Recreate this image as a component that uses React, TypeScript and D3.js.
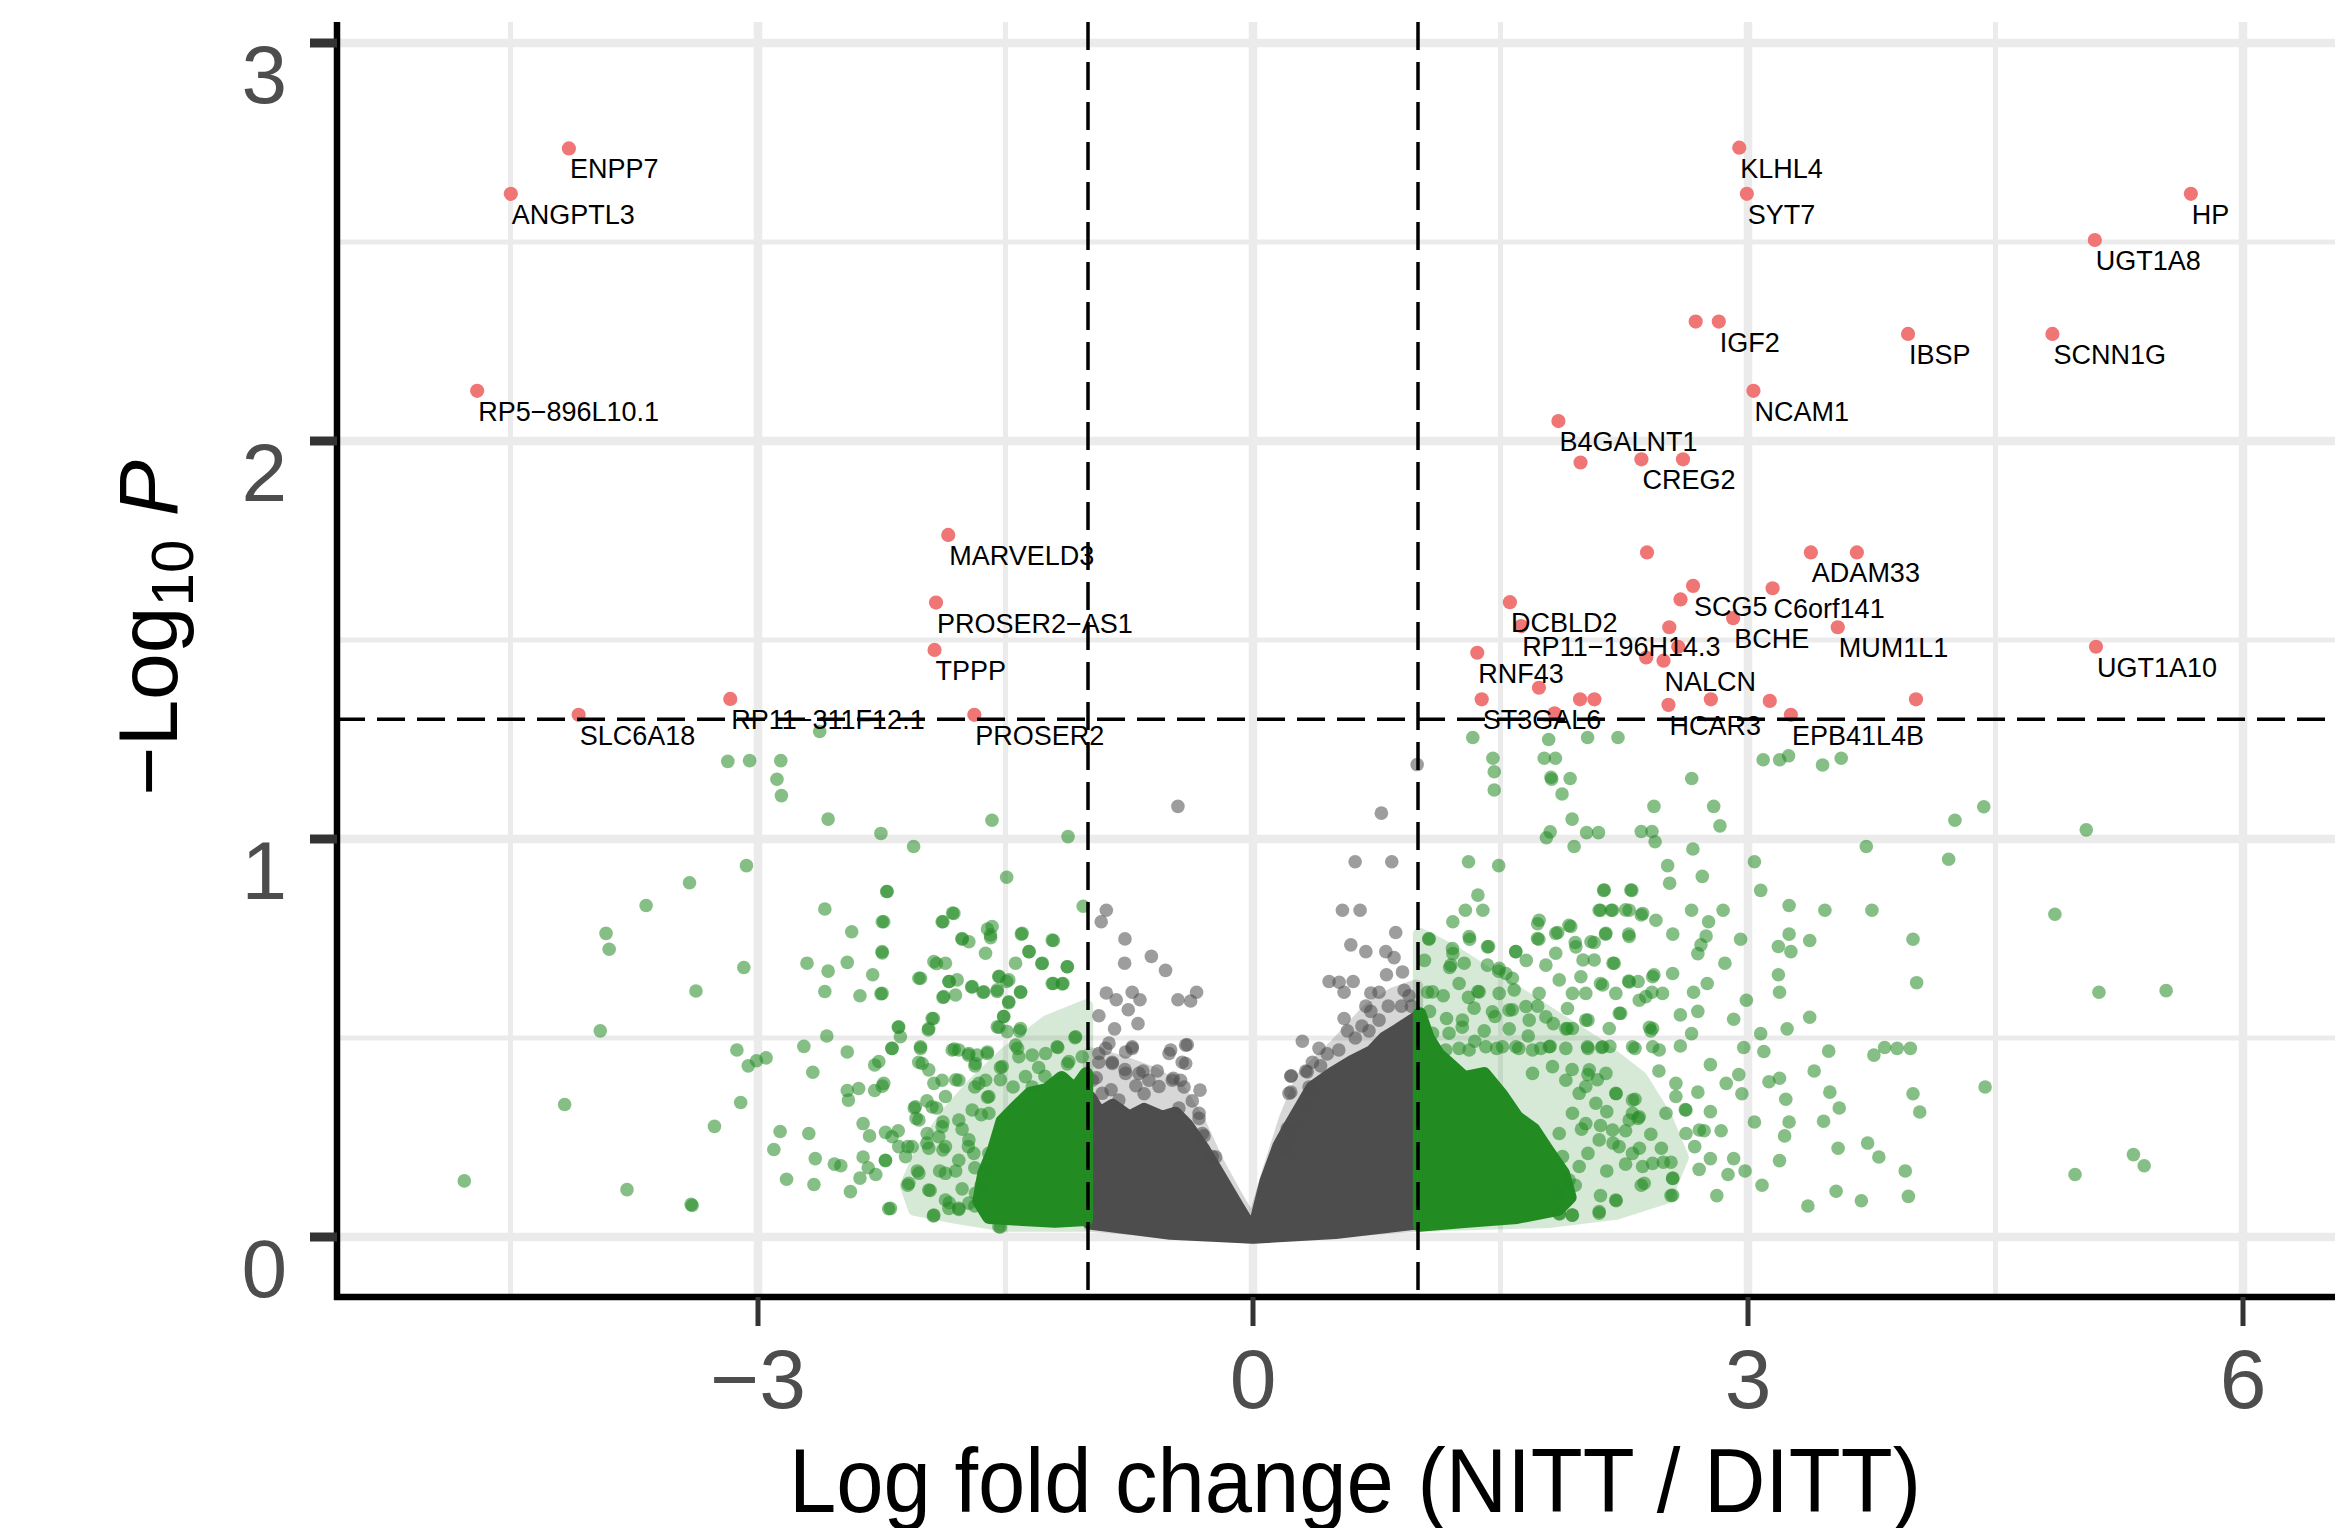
import React from "react";
import * as d3 from "d3";

type Pt = [number, number];

// axis ticks
const xTicks = [-3, 0, 3, 6];
const xMinor = [-4.5, -1.5, 1.5, 4.5];
const yTicks = [0, 1, 2, 3];
const yMinor = [0.5, 1.5, 2.5];
const fcCutoffs = [-1, 1];
const pCutoff = 1.301;

// significant genes (red)
const sigLabels = [
  "ENPP7", "ANGPTL3", "RP5−896L10.1", "MARVELD3", "PROSER2−AS1", "TPPP", "RP11−311F12.1", "SLC6A18", "PROSER2",
  "KLHL4", "SYT7", "HP", "UGT1A8", "", "IGF2", "IBSP", "SCNN1G", "NCAM1", "B4GALNT1",
  "", "CREG2", "", "", "ADAM33", "", "SCG5", "C6orf141", "", "DCBLD2", "BCHE", "RP11−196H14.3", "",
  "MUM1L1", "UGT1A10", "RNF43", "", "", "NALCN", "", "", "", "", "", "", "", "ST3GAL6", "HCAR3", "EPB41L4B",
];
const sigLogFC = [
  -4.146, -4.498, -4.702, -1.847, -1.921, -1.93, -3.168, -4.087, -1.689,
  2.947, 2.993, 5.684, 5.102, 2.683, 2.823, 3.97, 4.845, 3.033, 1.851,
  1.985, 2.354, 2.606, 2.388, 3.381, 3.66, 2.667, 3.149, 2.591, 1.557, 2.91, 1.625, 2.523,
  3.544, 5.109, 1.359, 2.577, 2.383, 2.488, 1.733, 1.982, 2.069, 2.775, 4.018, 3.132, 1.828, 1.386, 2.518, 3.26,
];
const sigNegLogP = [
  2.735, 2.621, 2.126, 1.764, 1.594, 1.475, 1.352, 1.312, 1.312,
  2.737, 2.621, 2.621, 2.505, 2.3, 2.3, 2.269, 2.269, 2.126, 2.05,
  1.946, 1.954, 1.954, 1.72, 1.72, 1.72, 1.636, 1.63, 1.602, 1.595, 1.555, 1.535, 1.532,
  1.532, 1.483, 1.468, 1.483, 1.456, 1.448, 1.38, 1.351, 1.351, 1.351, 1.351, 1.347, 1.316, 1.351, 1.337, 1.312,
];

// dense clouds (outlines of the overlapping point mass)
const grayCore: Pt[] = [
  [-0.99, 0.35], [-0.93, 0.31], [-0.85, 0.33], [-0.75, 0.3], [-0.66, 0.32], [-0.55, 0.3], [-0.47, 0.31], [-0.4, 0.28],
  [-0.3, 0.22], [-0.2, 0.15], [-0.1, 0.08], [-0.02, 0.025], [0.02, 0.04], [0.08, 0.14], [0.16, 0.23], [0.24, 0.29],
  [0.36, 0.375], [0.48, 0.41], [0.6, 0.44], [0.72, 0.465], [0.8, 0.5], [0.88, 0.52], [0.99, 0.55], [0.99, 0.036],
  [0.5, 0.012], [0, 0], [-0.5, 0.01], [-0.99, 0.036],
];
const grayHalo: Pt[] = [
  [-0.99, 0.46], [-0.8, 0.44], [-0.6, 0.41], [-0.45, 0.37], [-0.33, 0.29], [-0.22, 0.19], [-0.1, 0.1], [0, 0.03],
  [0.1, 0.17], [0.2, 0.3], [0.3, 0.4], [0.5, 0.48], [0.7, 0.57], [0.85, 0.61], [0.99, 0.63], [0.99, 0.03], [0, 0], [-0.99, 0.03],
];
const greenCoreLeft: Pt[] = [
  [-1.01, 0.41], [-1.08, 0.37], [-1.16, 0.4], [-1.25, 0.37], [-1.35, 0.36], [-1.45, 0.32], [-1.52, 0.29], [-1.57, 0.22],
  [-1.63, 0.16], [-1.66, 0.09], [-1.6, 0.05], [-1.4, 0.045], [-1.2, 0.04], [-1.01, 0.045],
];
const greenHaloLeft: Pt[] = [
  [-1.01, 0.58], [-1.25, 0.54], [-1.5, 0.46], [-1.7, 0.38], [-1.85, 0.31], [-2.0, 0.22], [-2.1, 0.13], [-2.05, 0.07],
  [-1.8, 0.05], [-1.5, 0.03], [-1.01, 0.03],
];
const greenCoreRight: Pt[] = [
  [1.01, 0.56], [1.06, 0.5], [1.12, 0.46], [1.2, 0.43], [1.28, 0.4], [1.4, 0.41], [1.5, 0.36], [1.6, 0.3], [1.7, 0.27],
  [1.78, 0.22], [1.88, 0.16], [1.92, 0.1], [1.85, 0.07], [1.6, 0.05], [1.3, 0.04], [1.01, 0.03],
];
const greenHaloRight: Pt[] = [
  [1.01, 0.76], [1.2, 0.72], [1.5, 0.64], [1.8, 0.56], [2.1, 0.48], [2.35, 0.4], [2.5, 0.3], [2.6, 0.2], [2.5, 0.1],
  [2.2, 0.06], [1.8, 0.04], [1.01, 0.03],
];

// individual non-significant points
const grayPts: Pt[] = [
  [-0.455, 1.082], [0.778, 1.065], [0.995, 1.187], [0.619, 0.943], [0.841, 0.943], [0.542, 0.821], [0.649, 0.821],
  [0.865, 0.765], [0.593, 0.734], [0.684, 0.717], [0.805, 0.717], [0.855, 0.702], [0.809, 0.659], [0.906, 0.666],
  [0.461, 0.642], [0.522, 0.64], [0.607, 0.642], [0.552, 0.615], [0.714, 0.613], [0.764, 0.615], [0.916, 0.62],
  [0.946, 0.606], [0.684, 0.58], [0.714, 0.567], [0.764, 0.545], [0.552, 0.549], [0.572, 0.518], [0.703, 0.518],
  [0.299, 0.492], [0.4, 0.474], [0.36, 0.439], [0.32, 0.417], [0.229, 0.404], [0.229, 0.364], [0.34, 0.377],
  [0.31, 0.333], [0.229, 0.271], [0.208, 0.223], [0.232, 0.405], [0.218, 0.361], [0.329, 0.415], [0.208, 0.273], [0.188, 0.227],
  [0.45, 0.46], [0.52, 0.47], [0.62, 0.5], [0.82, 0.58], [0.9, 0.58], [0.96, 0.58], [0.66, 0.53], [0.41, 0.43],
  [-0.889, 0.821], [-0.92, 0.792], [-0.776, 0.749], [-0.778, 0.688], [-0.616, 0.705], [-0.53, 0.67], [-0.889, 0.613],
  [-0.829, 0.596], [-0.732, 0.615], [-0.685, 0.596], [-0.934, 0.556], [-0.756, 0.571], [-0.697, 0.536], [-0.839, 0.523],
  [-0.455, 0.596], [-0.378, 0.593], [-0.342, 0.615], [-0.398, 0.483], [-0.499, 0.47], [-0.429, 0.439], [-0.893, 0.474],
  [-0.772, 0.465], [-0.732, 0.474], [-0.934, 0.439], [-0.853, 0.439], [-0.776, 0.421], [-0.667, 0.417], [-0.58, 0.417],
  [-0.483, 0.399], [-0.418, 0.377], [-0.321, 0.369], [-0.368, 0.342], [-0.327, 0.298], [-0.297, 0.254], [-0.226, 0.201],
  [-0.449, 0.324], [-0.934, 0.461], [-0.853, 0.436], [-0.772, 0.411], [-0.691, 0.411], [-0.631, 0.394], [-0.57, 0.378],
  [-0.489, 0.394], [-0.439, 0.394], [-0.914, 0.361], [-0.813, 0.344], [-0.509, 0.461], [-0.408, 0.482], [-0.408, 0.436],
  [-0.873, 0.487], [-0.732, 0.478], [-0.974, 0.394], [-0.247, 0.202], [-0.307, 0.26], [-0.327, 0.311],
  [-0.71, 0.38], [-0.66, 0.36], [-0.95, 0.4], [-0.86, 0.37],
];

const greenPts: Pt[] = [
  // left, sparse
  [-3.183, 1.195], [-3.051, 1.197], [-2.862, 1.197], [-2.885, 1.15], [-2.858, 1.109], [-2.626, 1.27], [-2.575, 1.05],
  [-1.582, 1.047], [-2.255, 1.014], [-1.121, 1.006], [-2.057, 0.981], [-3.07, 0.933], [-1.493, 0.904], [-3.415, 0.89],
  [-2.22, 0.868], [-3.678, 0.833], [-2.595, 0.824], [-1.029, 0.831], [-1.821, 0.814], [-1.879, 0.792], [-2.247, 0.792],
  [-1.609, 0.774], [-3.921, 0.763], [-3.902, 0.723], [-2.432, 0.767], [-1.763, 0.748], [-1.404, 0.761], [-1.21, 0.745],
  [-1.59, 0.752], [-2.247, 0.714], [-1.357, 0.717], [-3.086, 0.677], [-2.703, 0.688], [-2.459, 0.69], [-2.575, 0.668],
  [-1.918, 0.687], [-1.28, 0.687], [-1.125, 0.679], [-2.305, 0.659], [-2.015, 0.65], [-1.841, 0.642], [-1.539, 0.655],
  [-1.493, 0.642], [-1.21, 0.637], [-1.152, 0.637], [-3.376, 0.618], [-2.595, 0.617], [-2.382, 0.606], [-2.255, 0.611],
  [-1.879, 0.602], [-1.705, 0.628], [-1.636, 0.615], [-1.551, 0.617], [-1.408, 0.615], [-1.481, 0.589], [-2.15, 0.527],
  [-1.937, 0.549], [-1.968, 0.52], [-1.512, 0.554], [-1.539, 0.527], [-1.415, 0.518], [-3.956, 0.518], [-2.583, 0.505],
  [-1.079, 0.501], [-2.722, 0.479], [-3.128, 0.47], [-2.459, 0.465], [-2.189, 0.474], [-2.015, 0.474], [-1.81, 0.472],
  [-1.725, 0.457], [-1.609, 0.465], [-1.427, 0.474], [-1.183, 0.476], [-3.059, 0.43], [-3.009, 0.443], [-2.951, 0.45],
  [-2.668, 0.414], [-2.293, 0.432], [-2.026, 0.439], [-1.686, 0.43], [-1.531, 0.426], [-1.299, 0.426], [-1.125, 0.435],
  [-4.172, 0.333], [-3.105, 0.338], [-2.459, 0.368], [-2.39, 0.373], [-2.293, 0.368], [-2.247, 0.379], [-2.452, 0.344],
  [-2.053, 0.324], [-1.976, 0.342], [-1.802, 0.395], [-1.686, 0.377], [-3.264, 0.278], [-2.866, 0.265], [-2.692, 0.26],
  [-2.363, 0.285], [-2.324, 0.254], [-2.227, 0.263], [-2.15, 0.267], [-2.042, 0.298], [-2.904, 0.22], [-2.653, 0.197],
  [-2.537, 0.183], [-2.498, 0.179], [-2.363, 0.201], [-2.332, 0.174], [-2.227, 0.192], [-2.092, 0.227], [-1.976, 0.236],
  [-1.879, 0.219], [-4.78, 0.141], [-3.794, 0.119], [-3.399, 0.079], [-3.405, 0.082], [-2.827, 0.145], [-2.661, 0.132],
  [-2.44, 0.114], [-2.382, 0.148], [-2.286, 0.157], [-2.092, 0.13], [-1.957, 0.117], [-2.208, 0.071], [-1.937, 0.053],
  [-1.841, 0.086], [-1.783, 0.069], [-1.686, 0.078], [-1.531, 0.025], [-1.918, 0.324], [-1.879, 0.289], [-1.763, 0.271],
  [-1.725, 0.227], [-1.686, 0.174], [-1.802, 0.166], [-1.899, 0.166], [-2.034, 0.166], [-1.763, 0.121], [-1.647, 0.13],
  [-1.647, 0.307], [-1.609, 0.351], [-1.454, 0.377], [-1.338, 0.377], [-1.531, 0.395], [-1.261, 0.404], [-1.145, 0.395],
  // left, near the dense core
  [-2.217, 0.868], [-2.238, 0.792], [-1.813, 0.813], [-1.884, 0.792], [-1.763, 0.75], [-1.722, 0.742], [-1.581, 0.78],
  [-1.591, 0.759], [-1.621, 0.713], [-1.399, 0.763], [-1.358, 0.717], [-1.217, 0.746], [-1.126, 0.679], [-1.277, 0.688],
  [-1.439, 0.688], [-1.217, 0.637], [-1.156, 0.636], [-2.248, 0.717], [-2.025, 0.65], [-1.934, 0.692], [-1.864, 0.688],
  [-1.843, 0.642], [-1.793, 0.646], [-1.702, 0.629], [-1.631, 0.616], [-1.55, 0.621], [-1.54, 0.654], [-1.48, 0.646],
  [-1.409, 0.616], [-2.248, 0.612], [-1.874, 0.604], [-1.803, 0.608], [-1.48, 0.591], [-1.51, 0.554], [-1.55, 0.528],
  [-1.49, 0.516], [-1.409, 0.524], [-1.945, 0.549], [-1.965, 0.524], [-2.147, 0.528], [-2.187, 0.474], [-2.137, 0.503],
  [-2.015, 0.478], [-1.823, 0.47], [-1.783, 0.47], [-1.722, 0.461], [-1.672, 0.457], [-1.611, 0.461], [-1.439, 0.482],
  [-1.419, 0.453], [-1.338, 0.457], [-1.257, 0.461], [-1.187, 0.478], [-1.075, 0.503], [-1.116, 0.441], [-1.035, 0.453],
  [-2.005, 0.436], [-1.965, 0.42], [-1.783, 0.394], [-1.682, 0.436], [-1.52, 0.428], [-1.379, 0.403], [-2.268, 0.441],
  [-2.238, 0.386], [-1.934, 0.386], [-1.884, 0.394], [-1.662, 0.386], [-1.621, 0.394], [-2.046, 0.327], [-1.945, 0.327],
  [-1.864, 0.353], [-1.783, 0.294], [-1.702, 0.319], [-1.601, 0.353], [-1.601, 0.311], [-2.025, 0.294], [-1.884, 0.277],
  [-1.975, 0.26], [-1.904, 0.252], [-2.187, 0.252], [-2.147, 0.227], [-2.066, 0.227], [-2.228, 0.193], [-2.106, 0.202],
  [-1.965, 0.223], [-1.864, 0.227], [-1.722, 0.244], [-1.692, 0.21], [-1.783, 0.193], [-1.864, 0.16], [-2.025, 0.16],
  [-2.086, 0.135], [-1.965, 0.118], [-1.864, 0.093], [-1.783, 0.072], [-1.843, 0.072], [-1.682, 0.11], [-1.722, 0.085],
  [-2.197, 0.072], [-1.934, 0.055], [-1.54, 0.026], [-1.601, 0.21], [-1.621, 0.168],
  // right, sparse
  [1.332, 1.255], [1.792, 1.25], [2.028, 1.255], [2.212, 1.255], [1.454, 1.203], [1.462, 1.169], [1.462, 1.123],
  [1.765, 1.203], [1.833, 1.203], [1.806, 1.155], [1.81, 1.15], [1.922, 1.152], [1.873, 1.113], [3.092, 1.199],
  [3.192, 1.199], [3.246, 1.209], [3.452, 1.186], [3.565, 1.203], [2.659, 1.152], [1.934, 1.05], [1.801, 1.018],
  [1.778, 1.003], [1.946, 0.981], [2.022, 1.016], [2.094, 1.016], [2.353, 1.019], [2.418, 1.019], [2.437, 0.993],
  [2.43, 1.082], [2.792, 1.082], [2.83, 1.033], [2.666, 0.975], [3.039, 0.943], [3.717, 0.981], [4.254, 1.047],
  [4.429, 1.081], [4.216, 0.949], [5.05, 1.023], [4.86, 0.811], [5.127, 0.615], [5.534, 0.619], [4.982, 0.157],
  [5.336, 0.207], [5.401, 0.179], [4.437, 0.377], [4.0, 0.748], [4.022, 0.639], [4.0, 0.36], [4.041, 0.314],
  [3.953, 0.166], [3.972, 0.102], [3.687, 0.091], [3.534, 0.115], [3.363, 0.078], [3.085, 0.13], [3.077, 0.871],
  [3.249, 0.833], [3.466, 0.821], [3.751, 0.821], [3.374, 0.745], [3.249, 0.761], [3.184, 0.73], [3.26, 0.717],
  [2.955, 0.748], [2.849, 0.821], [2.658, 0.821], [2.761, 0.792], [2.544, 0.761], [2.715, 0.734], [2.86, 0.688],
  [3.184, 0.659], [3.191, 0.615], [2.99, 0.595], [2.913, 0.547], [3.374, 0.552], [3.077, 0.511], [3.237, 0.523],
  [2.974, 0.476], [3.096, 0.466], [3.401, 0.417], [3.496, 0.364], [3.553, 0.324], [3.458, 0.291], [3.725, 0.236],
  [3.793, 0.201], [3.546, 0.223], [3.763, 0.457], [3.828, 0.476], [3.904, 0.474], [3.984, 0.474], [3.489, 0.467],
  [3.191, 0.399], [3.127, 0.39], [2.944, 0.408], [2.963, 0.36], [2.868, 0.386], [3.229, 0.346], [3.039, 0.289],
  [3.249, 0.289], [3.222, 0.254], [3.191, 0.192], [2.879, 0.157], [2.913, 0.197], [2.982, 0.166], [2.772, 0.315],
  [2.734, 0.267], [2.837, 0.267], [2.677, 0.227], [2.772, 0.197], [2.704, 0.17], [2.811, 0.104], [2.533, 0.104],
  [2.544, 0.148], [2.533, 0.188], [2.475, 0.223], [2.353, 0.13], [2.201, 0.091], [2.098, 0.06], [1.934, 0.055],
  [1.858, 0.058], [2.62, 0.32], [2.696, 0.364], [2.563, 0.386], [2.46, 0.417], [2.411, 0.518], [2.403, 0.527],
  [2.658, 0.511], [2.59, 0.48], [2.772, 0.433], [2.696, 0.567], [2.59, 0.558], [2.67, 0.615], [2.753, 0.637],
  [2.696, 0.712], [2.746, 0.756], [2.228, 0.562], [2.106, 0.637], [2.03, 0.545], [1.896, 0.523], [2.163, 0.479],
  [2.315, 0.474], [2.113, 0.476], [2.03, 0.474], [2.43, 0.659], [2.418, 0.615], [2.334, 0.642], [2.277, 0.643],
  [2.182, 0.688], [2.277, 0.761], [2.136, 0.761], [2.353, 0.809], [2.258, 0.822], [2.106, 0.821], [2.171, 0.821],
  [2.125, 0.871], [2.296, 0.871], [2.525, 0.889], [2.513, 0.933], [2.723, 0.906], [2.068, 0.74], [2.0, 0.696],
  [1.953, 0.74], [1.915, 0.783], [1.847, 0.765], [1.725, 0.787], [1.732, 0.748], [1.656, 0.695], [1.592, 0.717],
  [1.489, 0.668], [1.572, 0.65], [1.428, 0.73], [1.313, 0.748], [1.211, 0.792], [1.287, 0.821], [1.393, 0.821],
  [1.363, 0.859], [1.306, 0.943], [1.489, 0.933], [1.066, 0.748], [1.211, 0.712], [1.039, 0.695], [1.192, 0.677],
  [1.058, 0.615], [1.153, 0.606], [1.306, 0.602], [1.363, 0.617], [1.07, 0.567], [1.173, 0.549], [1.268, 0.527],
  [1.466, 0.554], [1.572, 0.571], [1.725, 0.58], [1.82, 0.536], [1.553, 0.523], [1.401, 0.518], [1.668, 0.505],
  [1.801, 0.479], [1.896, 0.474], [1.744, 0.474], [1.611, 0.474], [1.477, 0.474], [1.344, 0.492], [1.249, 0.474],
  [1.934, 0.421], [2.03, 0.408], [2.087, 0.395], [2.201, 0.36], [2.315, 0.346], [2.334, 0.298], [2.258, 0.267],
  [2.182, 0.236], [2.342, 0.223], [2.258, 0.183], [2.487, 0.188], [2.411, 0.258], [2.144, 0.315], [2.106, 0.28],
  [1.991, 0.271], [2.03, 0.21], [2.144, 0.166], [1.953, 0.13], [1.839, 0.113], [2.106, 0.104],
  // right, near the dense core
  [1.067, 0.75], [1.31, 0.755], [1.209, 0.725], [1.28, 0.688], [1.421, 0.729], [1.421, 0.683], [1.199, 0.683],
  [1.088, 0.616], [1.249, 0.637], [1.371, 0.616], [1.492, 0.675], [1.532, 0.662], [1.593, 0.717], [1.583, 0.621],
  [1.492, 0.612], [1.451, 0.566], [1.552, 0.57], [1.654, 0.579], [1.734, 0.796], [1.724, 0.75], [1.835, 0.763],
  [1.926, 0.78], [1.835, 0.713], [1.957, 0.729], [2.048, 0.742], [1.775, 0.683], [1.856, 0.646], [1.987, 0.654],
  [1.936, 0.612], [2.017, 0.612], [2.119, 0.633], [2.199, 0.612], [2.068, 0.696], [2.189, 0.688], [2.139, 0.763],
  [2.28, 0.755], [2.098, 0.821], [2.179, 0.821], [2.28, 0.821], [2.361, 0.813], [2.442, 0.796], [2.129, 0.872],
  [2.29, 0.872], [1.734, 0.612], [1.674, 0.545], [1.775, 0.553], [1.906, 0.574], [2.017, 0.545], [1.906, 0.524],
  [1.936, 0.524], [2.159, 0.524], [2.027, 0.478], [2.119, 0.478], [2.3, 0.478], [2.422, 0.524], [2.422, 0.478],
  [2.462, 0.47], [2.22, 0.562], [2.381, 0.604], [2.482, 0.612], [2.422, 0.654], [2.543, 0.662], [2.28, 0.641],
  [2.341, 0.595], [1.694, 0.47], [1.795, 0.478], [1.593, 0.478], [1.512, 0.478], [1.411, 0.478], [1.31, 0.47],
  [1.168, 0.47], [1.088, 0.512], [1.188, 0.512], [1.269, 0.545], [1.34, 0.575], [2.038, 0.42], [2.139, 0.411],
  [2.017, 0.378], [2.199, 0.361], [2.3, 0.344], [2.341, 0.302], [2.28, 0.294], [2.179, 0.269], [2.098, 0.244],
  [2.219, 0.227], [2.3, 0.21], [2.361, 0.177], [2.422, 0.185], [2.543, 0.147], [2.371, 0.135], [2.199, 0.093],
  [2.098, 0.064], [1.936, 0.055], [1.856, 0.059], [1.916, 0.143], [1.977, 0.177], [1.876, 0.202], [2.017, 0.285],
  [1.936, 0.311], [1.856, 0.26], [2.078, 0.336], [1.977, 0.361], [1.896, 0.394], [1.815, 0.428], [1.694, 0.411],
  [2.563, 0.353], [2.624, 0.319], [2.503, 0.311], [2.624, 0.26], [2.705, 0.269], [2.543, 0.105], [2.3, 0.311],
];

const W = 2335;
const H = 1528;
const panel = { left: 337, right: W, top: 22, bottom: 1297 };
const GREEN = "#228B22";
const GRAY = "#4d4d4d";
const RED = "#f07575";
const R = 6.8;

export default function App() {
  const x = d3.scaleLinear().domain([-3, 6]).range([758, 2243]);
  const y = d3.scaleLinear().domain([0, 3]).range([1237, 43]);
  const outline = d3
    .line<Pt>()
    .x((d) => x(d[0]))
    .y((d) => y(d[1]))
    .curve(d3.curveLinearClosed);

  const blob = (pts: Pt[], color: string, op: number, key: string) => (
    <g key={key} opacity={op}>
      <path d={outline(pts) || ""} fill={color} stroke={color} strokeWidth={R * 2} strokeLinejoin="round" />
    </g>
  );

  const sig = sigLabels.map((lab, i) => ({ lab, fc: sigLogFC[i], p: sigNegLogP[i] }));

  return (
    <svg
      width={W}
      height={H}
      style={{ position: "absolute", left: 0, top: 0, background: "#fff" }}
      fontFamily="'Liberation Sans', Arial, Helvetica, sans-serif"
    >
      <defs>
        <clipPath id="panelClip">
          <rect x={panel.left} y={panel.top} width={panel.right - panel.left} height={panel.bottom - panel.top} />
        </clipPath>
      </defs>
      <rect width={W} height={H} fill="#fff" />

      {/* grid */}
      <g stroke="#ebebeb">
        {yMinor.map((v) => (
          <line key={"ym" + v} x1={panel.left} x2={panel.right} y1={y(v)} y2={y(v)} strokeWidth={5} />
        ))}
        {xMinor.map((v) => (
          <line key={"xm" + v} x1={x(v)} x2={x(v)} y1={panel.top} y2={panel.bottom} strokeWidth={5} />
        ))}
        {yTicks.map((v) => (
          <line key={"yM" + v} x1={panel.left} x2={panel.right} y1={y(v)} y2={y(v)} strokeWidth={8.5} />
        ))}
        {xTicks.map((v) => (
          <line key={"xM" + v} x1={x(v)} x2={x(v)} y1={panel.top} y2={panel.bottom} strokeWidth={8.5} />
        ))}
      </g>

      <g clipPath="url(#panelClip)">
        {blob(grayHalo, GRAY, 0.22, "gh")}
        {blob(grayCore, GRAY, 1, "gc")}
        {grayPts.map((d, i) => (
          <circle key={"g" + i} cx={x(d[0])} cy={y(d[1])} r={R} fill={GRAY} fillOpacity={0.55} />
        ))}
        {blob(greenHaloLeft, GREEN, 0.18, "ghl")}
        {blob(greenHaloRight, GREEN, 0.18, "ghr")}
        {blob(greenCoreLeft, GREEN, 1, "gcl")}
        {blob(greenCoreRight, GREEN, 1, "gcr")}
        {greenPts.map((d, i) => (
          <circle key={"n" + i} cx={x(d[0])} cy={y(d[1])} r={R} fill={GREEN} fillOpacity={0.55} />
        ))}
        {sig.map((d, i) => (
          <circle key={"s" + i} cx={x(d.fc)} cy={y(d.p)} r={R + 0.3} fill={RED} />
        ))}

        {/* cutoffs */}
        <g stroke="#000" strokeWidth={3.5} strokeDasharray="28 12">
          {fcCutoffs.map((v) => (
            <line key={"v" + v} x1={x(v)} x2={x(v)} y1={panel.top} y2={panel.bottom} />
          ))}
          <line x1={panel.left} x2={panel.right} y1={y(pCutoff)} y2={y(pCutoff)} />
        </g>

        {sig
          .filter((d) => d.lab !== "")
          .map((d) => (
            <text key={d.lab} x={x(d.fc) + 1} y={y(d.p) + 30} fontSize={27} fill="#000">
              {d.lab}
            </text>
          ))}
      </g>

      {/* axes */}
      <line x1={panel.left} x2={panel.left} y1={panel.top} y2={panel.bottom + 3} stroke="#000" strokeWidth={6.5} />
      <line x1={panel.left - 3} x2={panel.right} y1={panel.bottom} y2={panel.bottom} stroke="#000" strokeWidth={6.5} />
      {yTicks.map((v) => (
        <g key={"yt" + v}>
          <line x1={310} x2={panel.left} y1={y(v)} y2={y(v)} stroke="#333" strokeWidth={9} />
          <text x={287} y={y(v) + 60} textAnchor="end" fontSize={82} fill="#4d4d4d">
            {v}
          </text>
        </g>
      ))}
      {xTicks.map((v) => (
        <g key={"xt" + v}>
          <line x1={x(v)} x2={x(v)} y1={panel.bottom} y2={panel.bottom + 29} stroke="#333" strokeWidth={5} />
          <text x={x(v)} y={1408} textAnchor="middle" fontSize={84} fill="#4d4d4d">
            {v < 0 ? "−" + Math.abs(v) : v}
          </text>
        </g>
      ))}

      <text x={1355} y={1512} textAnchor="middle" fontSize={90} textLength={1132} lengthAdjust="spacingAndGlyphs" fill="#000">
        Log fold change (NITT / DITT)
      </text>
      <text transform="translate(177,628) rotate(-90)" textAnchor="middle" fontSize={84} fill="#000">
        <tspan>−Log</tspan>
        <tspan dy={16} fontSize={60}>10</tspan>
        <tspan dy={-16} fontStyle="italic"> P</tspan>
      </text>
    </svg>
  );
}
